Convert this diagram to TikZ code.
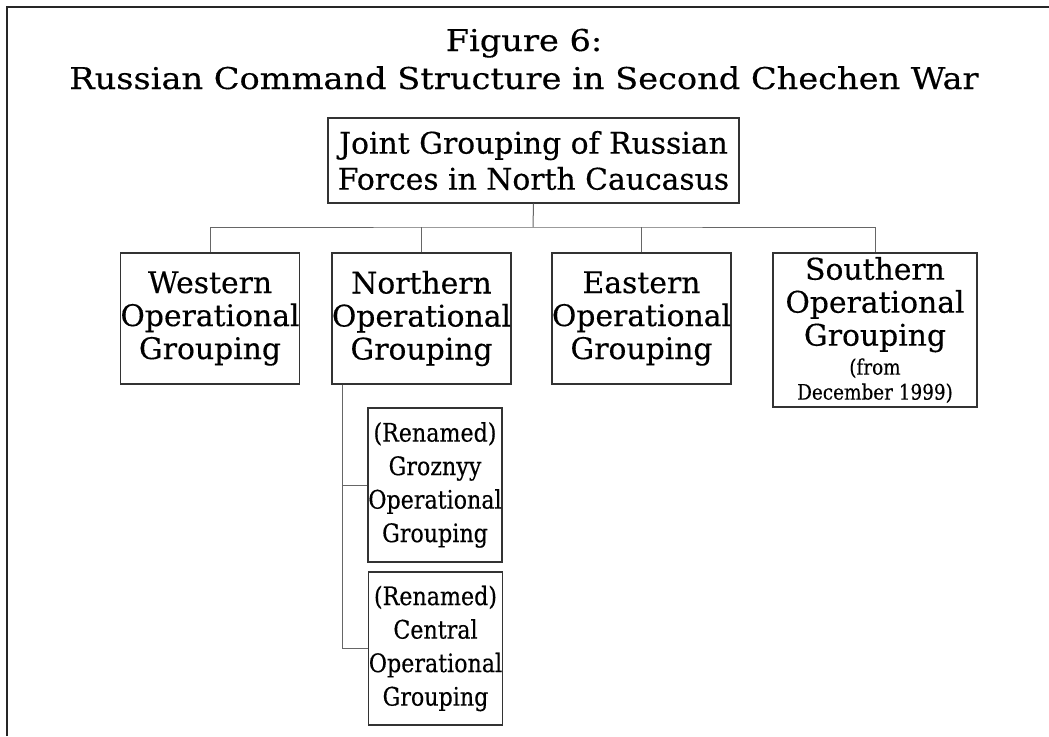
\documentclass[tikz,border=0pt]{standalone}
\usepackage{fontspec}
\setmainfont[FakeBold=0.35]{DejaVu Serif}
\newfontfamily\titlefont[FakeStretch=1.12,FakeBold=0.35]{DejaVu Serif}
\newfontfamily\narrowfont[FakeStretch=0.87,FakeBold=0.35]{DejaVu Serif}
\newfontfamily\notefont[FakeStretch=0.86,FakeBold=0.3]{DejaVu Serif}
\usetikzlibrary{calc}
\begin{document}
\begin{tikzpicture}[x=1pt,y=-1pt,
  unit/.style={draw=black!80, line width=1.3pt, inner sep=0pt, align=center,
    font=\fontsize{29.8}{33}\selectfont},
  subunit/.style={unit, font=\narrowfont\fontsize{25.5}{33.5}\selectfont},
  link/.style={draw=black!60, line width=1pt}]
\useasboundingbox (0,0) rectangle (1049,736);
\fill[white] (0,0) rectangle (1049,736);
% page frame (left and top edges only)
\draw[line width=2pt, black!85] (7,736) -- (7,7) -- (1049,7);
% title
\node[font=\titlefont\fontsize{30}{38}\selectfont, align=center, inner sep=0pt, anchor=base]
  (title) at (524,89) {Figure 6:\\Russian Command Structure in Second Chechen War};
% command boxes
\node[unit, minimum width=411pt, minimum height=85pt, font=\fontsize{29.8}{36}\selectfont]
  (joint) at (533.5,160.5) {Joint Grouping of Russian\\Forces in North Caucasus};
\node[unit, minimum width=178pt, minimum height=131pt] (western) at (210,318.5)
  {Western\\Operational\\Grouping};
\node[unit, minimum width=179pt, minimum height=131pt] (northern) at (421.5,318.5)
  {Northern\\Operational\\Grouping};
\node[unit, minimum width=179pt, minimum height=131pt] (eastern) at (641.5,318.5)
  {Eastern\\Operational\\Grouping};
\node[unit, minimum width=204pt, minimum height=154pt] (southern) at (875,330)
  {Southern\\Operational\\Grouping\\[-4pt]{\notefont\fontsize{21.4}{23}\selectfont (from}\\[-8pt]{\notefont\fontsize{21.4}{23}\selectfont December 1999)}};
\node[subunit, minimum width=134pt, minimum height=154pt] (groznyy) at (435,485)
  {(Renamed)\\Groznyy\\Operational\\Grouping};
\node[subunit, minimum width=134pt, minimum height=153pt] (central) at (435.5,648.5)
  {(Renamed)\\Central\\Operational\\Grouping};
% connectors
\coordinate (bus) at (533,227);
\coordinate (spine) at ($(northern.south west)+(11,0)$);
\draw[link] (joint.south) -- (bus);
\draw[link] (western.north) |- (bus) -| (southern.north);
\draw[link] (northern.north) -- (northern.north |- bus);
\draw[link] (eastern.north) -- (eastern.north |- bus);
\draw[link] (spine) |- (groznyy.west);
\draw[link] (spine) |- (central.west);
\end{tikzpicture}
\end{document}
